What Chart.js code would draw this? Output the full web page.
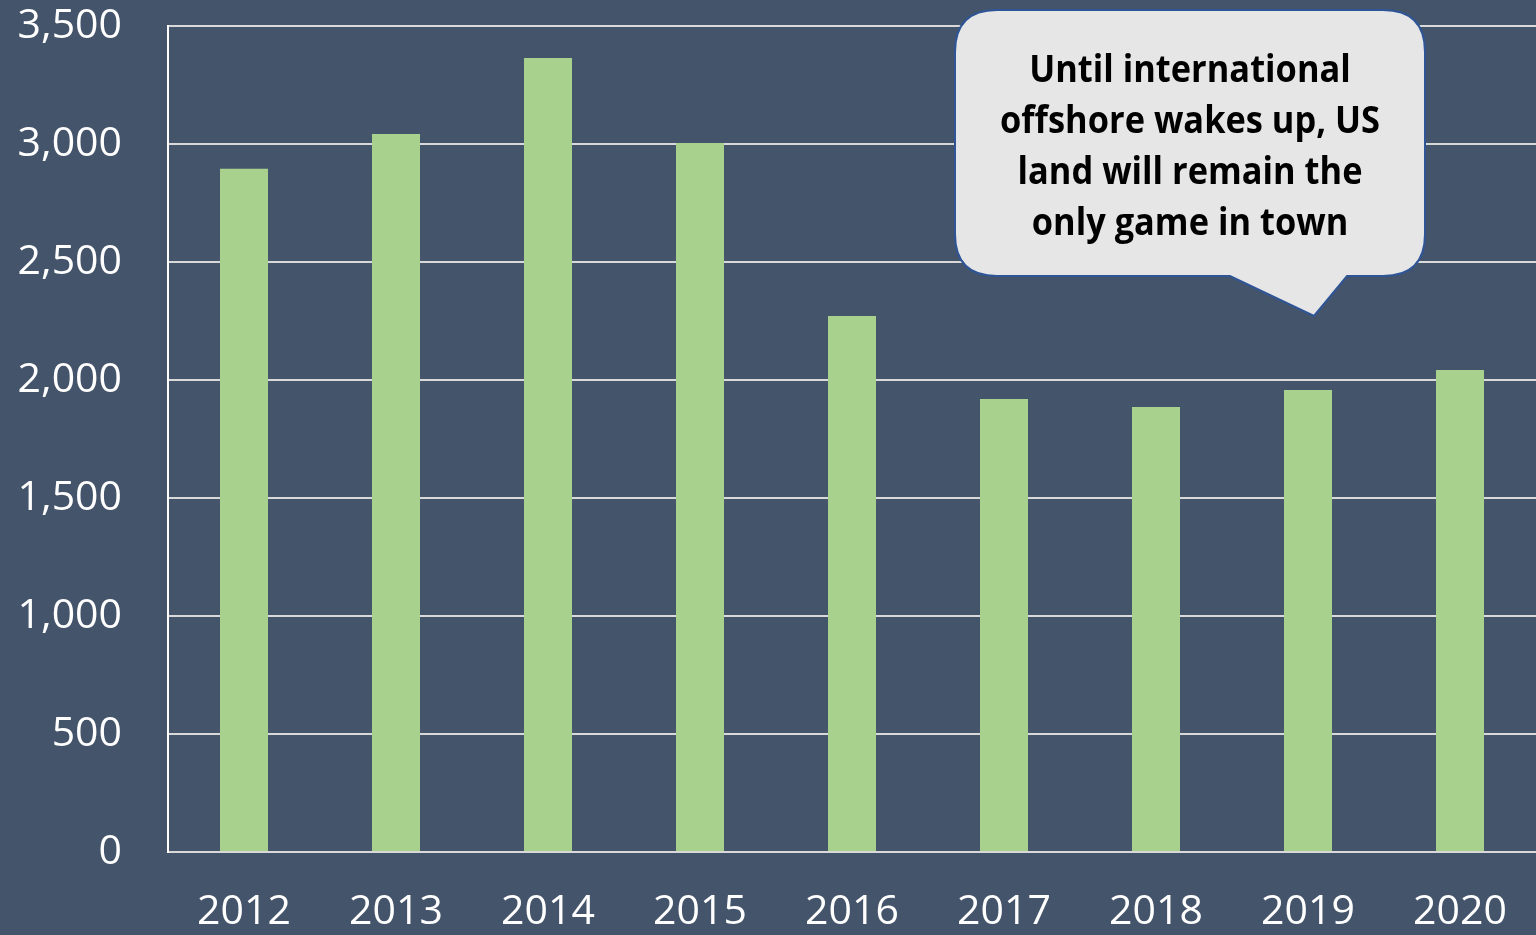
<!DOCTYPE html>
<html>
<head>
<meta charset="utf-8">
<script src="https://cdn.jsdelivr.net/npm/chart.js@4"></script>
<style>
  html, body { margin: 0; padding: 0; background: #44546A; }
  #wrap { width: 1536px; height: 935px; }
</style>
</head>
<body>
<div id="wrap"><canvas id="chart"></canvas></div>
<script>
// Dados
const anos = ["2012", "2013", "2014", "2015", "2016", "2017", "2018", "2019", "2020"];
const valores = [2895, 3042, 3364, 3004, 2271, 1919, 1886, 1958, 2042];
const yTicks = [0, 500, 1000, 1500, 2000, 2500, 3000, 3500];
const calloutLinhas = [
  "Until international",
  "offshore wakes up, US",
  "land will remain the",
  "only game in town"
];

// Balão de texto
const callout = {
  id: 'callout',
  afterDraw(chart) {
    const ctx = chart.ctx;
    const x0 = 955, y0 = 10, x1 = 1425, y1 = 276, r = 42;
    ctx.save();
    ctx.beginPath();
    ctx.moveTo(x0 + r, y0);
    ctx.lineTo(x1 - r, y0);
    ctx.quadraticCurveTo(x1, y0, x1, y0 + r);
    ctx.lineTo(x1, y1 - r);
    ctx.quadraticCurveTo(x1, y1, x1 - r, y1);
    ctx.lineTo(1347, y1);
    ctx.lineTo(1314, 316);
    ctx.lineTo(1230, y1);
    ctx.lineTo(x0 + r, y1);
    ctx.quadraticCurveTo(x0, y1, x0, y1 - r);
    ctx.lineTo(x0, y0 + r);
    ctx.quadraticCurveTo(x0, y0, x0 + r, y0);
    ctx.closePath();
    ctx.fillStyle = '#E7E6E6';
    ctx.fill();
    ctx.lineWidth = 2;
    ctx.strokeStyle = '#2F5597';
    ctx.stroke();

    ctx.fillStyle = '#000';
    ctx.font = 'bold 37px "Open Sans"';
    ctx.textAlign = 'center';
    ctx.textBaseline = 'alphabetic';
    calloutLinhas.forEach((linha, i) => {
      // comprime um pouco na horizontal para imitar Calibri
      ctx.save();
      ctx.translate(1190, 82 + i * 51);
      ctx.scale(0.93, 1);
      ctx.fillText(linha, 0, 0);
      ctx.restore();
    });
    ctx.restore();
  }
};

const ctx = document.getElementById('chart').getContext('2d');
new Chart(ctx, {
  type: 'bar',
  data: {
    labels: anos,
    datasets: [{
      data: valores,
      backgroundColor: '#A9D18E',
      barPercentage: 0.316,
      categoryPercentage: 1
    }]
  },
  options: {
    responsive: true,
    maintainAspectRatio: false,
    animation: false,
    layout: { padding: { top: 26, right: 0, left: 0, bottom: 0 } },
    plugins: {
      legend: { display: false },
      tooltip: { enabled: false }
    },
    scales: {
      x: {
        grid: { display: false, drawTicks: false },
        border: { display: true, color: '#D9D9D9', width: 2 },
        ticks: {
          color: '#FFFFFF',
          font: { family: '"Open Sans"', size: 41 },
          padding: 36,
          maxRotation: 0
        },
        afterFit(scale) {
          scale.height = 83;
          scale.paddingLeft = 0;
          scale.paddingRight = 0;
        }
      },
      y: {
        min: 0,
        max: 3500,
        afterBuildTicks(scale) { scale.ticks = yTicks.map(v => ({ value: v })); },
        grid: { color: '#D9D9D9', lineWidth: 2, drawTicks: false },
        border: { display: true, color: '#FFFFFF', width: 2 },
        ticks: {
          color: '#FFFFFF',
          font: { family: '"Open Sans"', size: 41 },
          padding: 46,
          callback: v => v.toLocaleString('en-US')
        },
        afterFit(scale) {
          scale.width = 168;
          scale.paddingTop = 0;
          scale.paddingBottom = 0;
        }
      }
    }
  },
  plugins: [callout]
});
</script>
</body>
</html>
